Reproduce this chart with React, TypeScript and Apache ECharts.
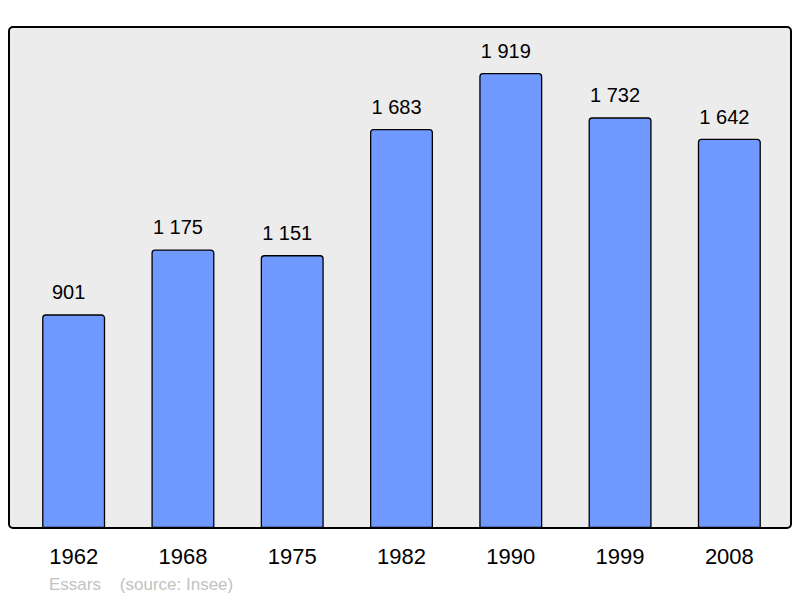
import React, { useEffect, useRef } from "react";
import * as echarts from "echarts";

const years = ["1962", "1968", "1975", "1982", "1990", "1999", "2008"];
const population = [901, 1175, 1151, 1683, 1919, 1732, 1642];
const footer = "Essars    (source: Insee)";

const fmt = (v: number) => String(v).replace(/\B(?=(\d{3})+(?!\d))/g, " ");
const FONT = "Liberation Sans, Arial, sans-serif";

export default function App() {
  const ref = useRef<HTMLDivElement>(null);
  useEffect(() => {
    if (!ref.current) return;
    const chart = echarts.init(ref.current, null, { renderer: "svg" });
    chart.setOption({
      animation: false,
      textStyle: { fontFamily: FONT },
      grid: { left: 19, top: 27, width: 765, height: 501 },
      xAxis: {
        type: "category",
        data: years,
        axisLine: { show: false },
        axisTick: { show: false },
        axisLabel: { fontSize: 22, color: "#000", margin: 17, fontFamily: FONT },
      },
      yAxis: {
        type: "value",
        min: 0,
        max: 2113,
        show: false,
        splitLine: { show: false },
      },
      graphic: [
        {
          type: "rect",
          z: -10,
          shape: { x: 9, y: 27, width: 782, height: 501, r: 4 },
          style: { fill: "#ececec", stroke: "none" },
        },
        {
          type: "rect",
          z: 100,
          shape: { x: 9, y: 27, width: 782, height: 501, r: 4 },
          style: { fill: "none", stroke: "#000", lineWidth: 2 },
        },
        {
          type: "text",
          left: 49,
          top: 576,
          style: { text: footer, fill: "#c2c2c2", fontSize: 17, fontFamily: FONT },
        },
      ],
      series: [
        {
          type: "bar",
          data: population,
          barWidth: 63,
          itemStyle: {
            color: "#7099ff",
            borderColor: "#000",
            borderWidth: 1.3,
            borderRadius: [3, 3, 0, 0],
          },
          label: {
            show: true,
            position: "top",
            distance: 12,
            offset: [-5, 0],
            fontSize: 20,
            color: "#000",
            fontFamily: FONT,
            formatter: (p: any) => fmt(p.value),
          },
        },
      ],
    });
    return () => chart.dispose();
  }, []);
  return <div ref={ref} style={{ width: 800, height: 598, position: "absolute", left: 0, top: 0 }} />;
}
